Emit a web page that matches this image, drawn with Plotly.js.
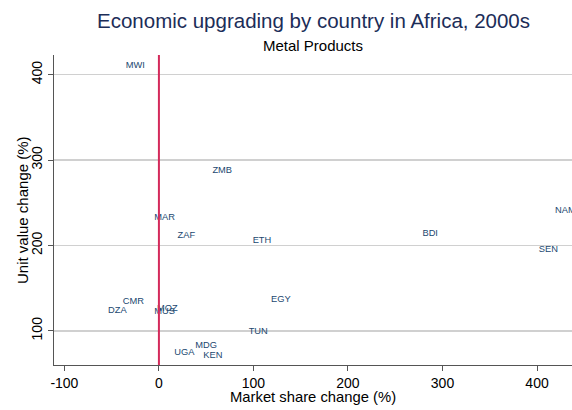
<!DOCTYPE html>
<html>
<head>
<meta charset="utf-8">
<script src="https://cdn.plot.ly/plotly-3.0.1.min.js"></script>
<style>html,body{margin:0;padding:0;background:#fff}#chart{width:572px;height:410px}</style>
</head>
<body>
<div id="chart"></div>
<script>
var countries = ["MWI","ZMB","MAR","ZAF","ETH","CMR","DZA","MUS","MOZ","EGY","TUN","UGA","MDG","KEN","BDI","SEN","NAM"];
var marketShareChange = [-25, 67, 6, 29, 109, -27, -44, 6, 9, 129, 105, 27, 50, 57, 287, 412, 430];
var unitValueChange = [410, 287, 233, 212, 206, 134, 124, 123, 126, 136, 99, 75, 83, 71, 214, 195, 241];
var xTicks = [-100, 0, 100, 200, 300, 400];
var yTicks = [100, 200, 300, 400];

var trace = {
  x: marketShareChange,
  y: unitValueChange,
  text: countries,
  mode: 'text',
  type: 'scatter',
  textposition: 'middle center',
  textfont: {family: 'Liberation Sans, Arial, sans-serif', size: 9.3, color: '#1a476f'},
  hoverinfo: 'none',
  cliponaxis: true
};

var layout = {
  width: 572, height: 410,
  margin: {l: 54, r: 0, t: 55, b: 45},
  paper_bgcolor: '#ffffff', plot_bgcolor: '#ffffff',
  showlegend: false,
  font: {family: 'Liberation Sans, Arial, sans-serif', color: '#000'},
  xaxis: {
    range: [-111, 437],
    tickvals: xTicks,
    ticktext: xTicks.map(String),
    showgrid: false, zeroline: false,
    showline: true, linecolor: '#555', linewidth: 1,
    ticks: 'outside', ticklen: 5, tickcolor: '#555',
    tickfont: {size: 14, color: '#000'}
  },
  yaxis: {
    range: [60, 423],
    tickvals: yTicks,
    ticktext: yTicks.map(String),
    tickangle: -90,
    showgrid: true, gridcolor: '#d0d0d0', gridwidth: 1.5,
    zeroline: false,
    showline: true, linecolor: '#555', linewidth: 1,
    ticks: 'outside', ticklen: 5, tickcolor: '#555',
    tickfont: {size: 14, color: '#000'}
  },
  shapes: [{
    type: 'line', xref: 'x', yref: 'paper',
    x0: 0, x1: 0, y0: 0, y1: 1,
    line: {color: '#d42a5b', width: 2}
  }],
  annotations: [
    {text: 'Economic upgrading by country in Africa, 2000s', xref: 'paper', yref: 'paper',
     x: 0.5, y: 1, yshift: 35, xanchor: 'center', yanchor: 'middle', showarrow: false,
     font: {size: 20.5, color: '#1c2d58'}},
    {text: 'Metal Products', xref: 'paper', yref: 'paper',
     x: 0.5, y: 1, yshift: 10, xanchor: 'center', yanchor: 'middle', showarrow: false,
     font: {size: 15, color: '#000'}},
    {text: 'Market share change (%)', xref: 'paper', yref: 'paper',
     x: 0.5, y: 0, yshift: -32, xanchor: 'center', yanchor: 'middle', showarrow: false,
     font: {size: 14.8, color: '#000'}},
    {text: 'Unit value change (%)', xref: 'paper', yref: 'paper', textangle: -90,
     x: 0, y: 0.5, xshift: -32, xanchor: 'center', yanchor: 'middle', showarrow: false,
     font: {size: 15, color: '#000'}}
  ]
};

Plotly.newPlot('chart', [trace], layout, {displayModeBar: false, staticPlot: true});
</script>
</body>
</html>
